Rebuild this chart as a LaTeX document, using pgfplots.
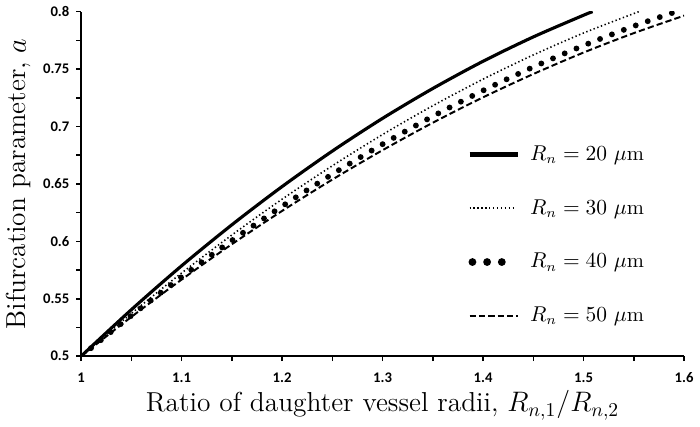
\documentclass[border=0pt]{standalone}
\usepackage{fontspec}
\usepackage{pgfplots}
\pgfplotsset{compat=1.18}
\newfontfamily\tickfont{Carlito}

\begin{document}
\begin{tikzpicture}
\begin{axis}[%
width=308pt,
height=176pt,
scale only axis,
xmin=1, xmax=1.6,
ymin=0.5, ymax=0.8,
axis x line*=bottom,
axis y line*=left,
axis line style={line width=1pt},
xtick={1,1.1,1.2,1.3,1.4,1.5,1.6},
minor xtick={1.05,1.15,1.25,1.35,1.45,1.55},
ytick={0.5,0.55,0.6,0.65,0.7,0.75,0.8},
minor ytick={0.525,0.575,0.625,0.675,0.725,0.775},
tick align=outside,
major tick length=2.5pt,
minor tick length=2.5pt,
every tick/.style={black, line width=0.8pt},
/pgf/number format/assume math mode=true,
tick label style={font=\tickfont\bfseries\fontsize{7.5}{8}\selectfont},
xticklabel style={yshift=-2.5pt},
xlabel={Ratio of daughter vessel radii, $R_{n,1}/R_{n,2}$},
ylabel={Bifurcation parameter, $a$},
every axis x label/.style={at={([yshift=-28.5pt]axis description cs:0.5,0)}, anchor=base,
  font=\fontsize{14}{16}\selectfont},
every axis y label/.style={at={([xshift=-22pt]axis description cs:0,0.5)}, rotate=90, anchor=south,
  font=\fontsize{14}{16}\selectfont},
legend style={draw=none, fill=none, at={(0.63,0.635)}, anchor=north west,
  row sep=14.5pt, font=\fontsize{10.5}{12}\selectfont},
legend cell align=left,
]
% R_n = 20 um
\addplot[smooth, black, line width=1.6pt,
  legend image code/.code={\path[draw=none] (0pt,0pt) -- (29pt,0pt);
    \draw[black, line width=2.3pt] (0pt,0pt) -- (25pt,0pt);}]
  table[row sep=crcr] {%
1.00 0.5000\\
1.05 0.5405\\
1.10 0.5787\\
1.15 0.6144\\
1.20 0.6477\\
1.25 0.6786\\
1.30 0.7071\\
1.35 0.7331\\
1.40 0.7568\\
1.45 0.7780\\
1.50 0.7969\\
1.509 0.8000\\
};
\addlegendentry{$R_n = 20~\mu$m}
% R_n = 30 um
\addplot[smooth, black, line width=0.8pt, dash pattern=on 0.7pt off 1.3pt,
  legend image code/.code={\path[draw=none] (0pt,0pt) -- (29pt,0pt);
    \draw[black, line width=0.8pt, dash pattern=on 0.7pt off 1.3pt] (0pt,0pt) -- (23pt,0pt);}]
  table[row sep=crcr] {%
1.00 0.5000\\
1.05 0.5372\\
1.10 0.5724\\
1.15 0.6055\\
1.20 0.6367\\
1.25 0.6658\\
1.30 0.6930\\
1.35 0.7181\\
1.40 0.7412\\
1.45 0.7623\\
1.50 0.7814\\
1.555 0.8000\\
};
\addlegendentry{$R_n = 30~\mu$m}
% R_n = 40 um
\addplot[smooth, black, line width=3pt, line cap=round, dash pattern=on 0pt off 6.5pt,
  legend image code/.code={\path[draw=none] (0pt,0pt) -- (29pt,0pt);
    \draw[black, line cap=round, line width=4pt, dash pattern=on 0pt off 7.5pt] (1.5pt,0pt) -- (17pt,0pt);}]
  table[row sep=crcr] {%
1.00 0.5000\\
1.05 0.5354\\
1.10 0.5690\\
1.15 0.6007\\
1.20 0.6305\\
1.25 0.6585\\
1.30 0.6846\\
1.35 0.7089\\
1.40 0.7313\\
1.45 0.7518\\
1.50 0.7705\\
1.55 0.7874\\
1.592 0.8000\\
};
\addlegendentry{$R_n = 40~\mu$m}
% R_n = 50 um
\addplot[smooth, black, line width=1pt, dash pattern=on 3.2pt off 1.6pt,
  legend image code/.code={\path[draw=none] (0pt,0pt) -- (29pt,0pt);
    \draw[black, line width=1pt, dash pattern=on 3.2pt off 1.6pt] (0pt,0pt) -- (25pt,0pt);}]
  table[row sep=crcr] {%
1.00 0.5000\\
1.05 0.5342\\
1.10 0.5667\\
1.15 0.5975\\
1.20 0.6265\\
1.25 0.6538\\
1.30 0.6794\\
1.35 0.7033\\
1.40 0.7254\\
1.45 0.7457\\
1.50 0.7644\\
1.55 0.7813\\
1.60 0.7965\\
};
\addlegendentry{$R_n = 50~\mu$m}
\end{axis}
\end{tikzpicture}
\end{document}
